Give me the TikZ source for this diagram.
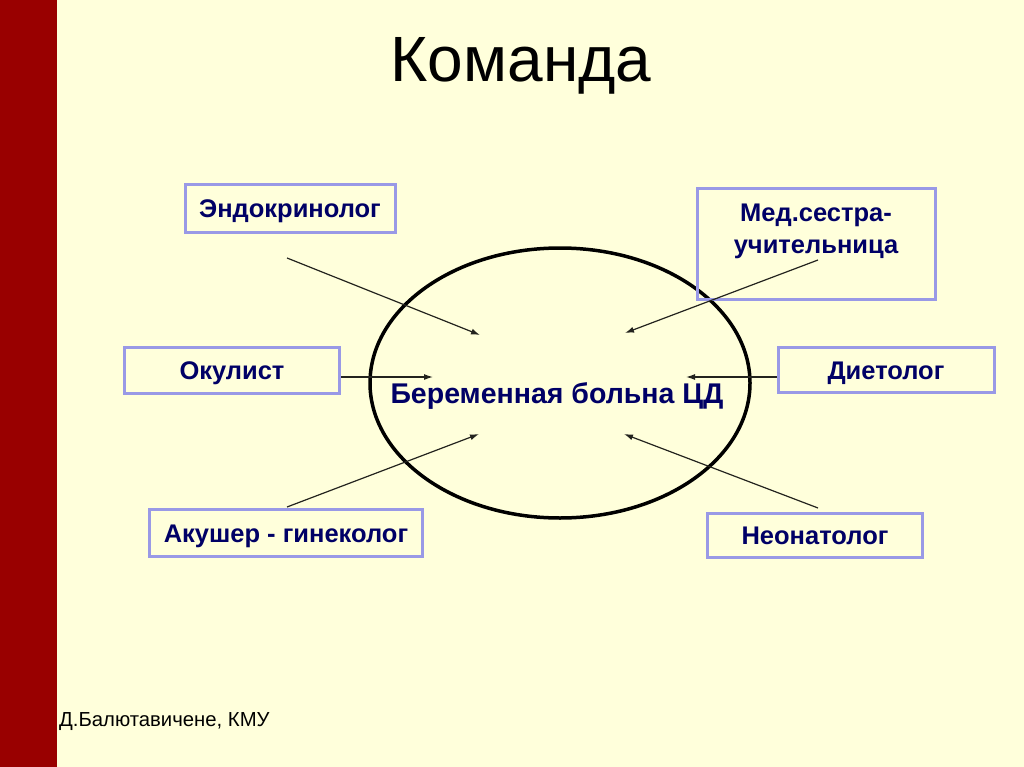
\documentclass[tikz,border=0pt]{standalone}
\usepackage{fontspec}
\setmainfont{Liberation Sans}
\usepackage{tikz}
\usetikzlibrary{arrows.meta, positioning, shapes.geometric}
\definecolor{mybg}{RGB}{255,255,219}
\definecolor{myred}{RGB}{153,0,0}
\definecolor{mynavy}{RGB}{0,0,102}
\definecolor{myframe}{RGB}{153,153,230}
\definecolor{mydark}{RGB}{35,35,30}
\tikzset{
  rolebox/.style={rectangle, draw=myframe, line width=3pt, inner sep=0pt,
    text height=18pt, text depth=0pt,
    font=\fontsize{25.5}{32}\selectfont\bfseries, text=mynavy},
  roletext/.style={align=center, inner sep=0pt,
    font=\fontsize{25.5}{32}\selectfont\bfseries, text=mynavy},
  patient/.style={ellipse, draw=black, line width=3.5pt, inner sep=0pt},
  arrow/.style={-{Latex[length=9pt, width=6pt]}, line width=1.2pt, color=mydark}
}
\begin{document}
\begin{tikzpicture}[x=1pt, y=-1pt]
  % Background and left bar
  \useasboundingbox (0,0) rectangle (1024,767);
  \fill[mybg] (0,0) rectangle (1024,767);
  \fill[myred] (0,0) rectangle (57,767);

  % Title
  \node[font=\fontsize{64}{70}\selectfont] (title) at (521,66) {Команда};

  % Central ellipse
  \node[patient, minimum width=380pt, minimum height=270pt] (oval) at (560,383) {};
  \node[anchor=base, font=\fontsize{28.5}{32}\selectfont\bfseries, text=mynavy, inner sep=0pt] (ptext) at (557,403) {Беременная больна ЦД};

  % Specialists
  \node[rolebox, minimum width=210pt, minimum height=48pt] (endo) at (290,209) {Эндокринолог};
  \node[rolebox, minimum width=238pt, minimum height=110pt] (nurse) at (816,244) {};
  \node[roletext, anchor=base] (nursetext) at (816,253) {Мед.сестра-\\учительница};
  \node[rolebox, minimum width=215pt, minimum height=46pt] (ocul) at (232,370) {Окулист};
  \node[rolebox, minimum width=216pt, minimum height=45pt] (diet) at (886,370) {Диетолог};
  \node[rolebox, minimum width=273pt, minimum height=47pt] (obst) at (286,533) {Акушер - гинеколог};
  \node[rolebox, minimum width=215pt, minimum height=44pt] (neo) at (815,535) {Неонатолог};

  % Arrow ends
  \coordinate (endofrom) at (287,258);
  \coordinate (endoto) at (480,335);
  \coordinate (nursefrom) at (818,260);
  \coordinate (nurseto) at (625,333);
  \coordinate (oculfrom) at (341,377);
  \coordinate (oculto) at (433,377);
  \coordinate (dietfrom) at (777,377);
  \coordinate (dietto) at (686,377);
  \coordinate (obstfrom) at (287,507);
  \coordinate (obstto) at (479,434);
  \coordinate (neofrom) at (818,508);
  \coordinate (neoto) at (624,434);

  % Draw arrows
  \draw[arrow] (endofrom) -- (endoto);
  \draw[arrow] (nursefrom) -- (nurseto);
  \draw[arrow] (oculfrom) -- (oculto);
  \draw[arrow] (dietfrom) -- (dietto);
  \draw[arrow] (obstfrom) -- (obstto);
  \draw[arrow] (neofrom) -- (neoto);

  % Footer
  \node[anchor=base west, font=\fontsize{20.3}{24}\selectfont, inner sep=0pt] (author) at (59,726) {Д.Балютавичене, КМУ};
\end{tikzpicture}
\end{document}
